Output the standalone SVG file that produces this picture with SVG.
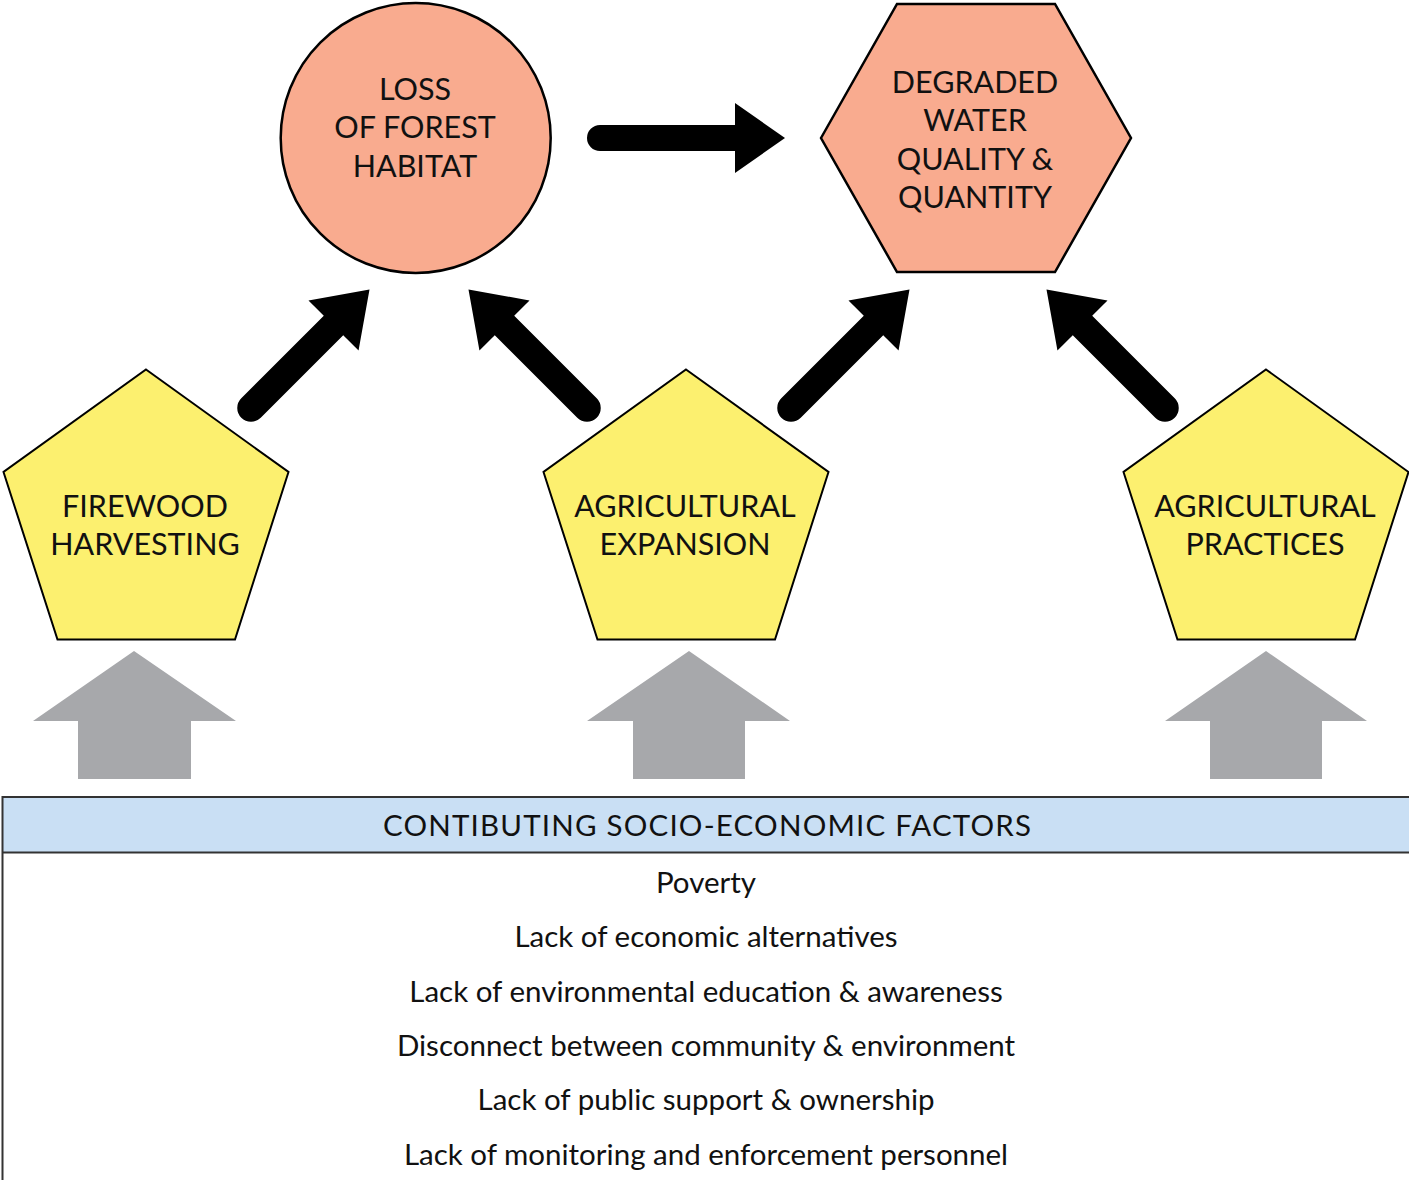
<svg xmlns="http://www.w3.org/2000/svg" width="1409" height="1180" viewBox="0 0 1409 1180">
  <style>
    .label { font-family: Lato, "Open Sans", "Liberation Sans", sans-serif; fill: #111; text-anchor: middle; }
    .node-text { font-size: 30.5px; }
    .threat { fill: #f9ab8f; stroke: #000; stroke-width: 2.5; }
    .driver { fill: #fcf06f; stroke: #000; stroke-width: 2; }
    .push { fill: #a7a8ab; }
    .link { fill: #000; }
    .factor { font-size: 29.5px; }
    .heading { font-size: 29.5px; }
    .rule { stroke: #333; stroke-width: 2; fill: none; }
  </style>
  <defs>
    <!-- bold arrow, tail centre at origin, pointing along +x -->
    <path id="diagArrow" d="M0,-13.75 L116.7,-13.75 L116.7,-35.4 L167.6,0 L116.7,35.4 L116.7,13.75 L0,13.75 A13.75,13.75 0 0 1 0,-13.75 Z"/>
    <path id="longArrow" d="M0,-13 L135,-13 L135,-35 L185,0 L135,35 L135,13 L0,13 A13,13 0 0 1 0,-13 Z"/>
  </defs>

  <rect width="1409" height="1180" fill="#fff"/>

  <!-- threats -->
  <g id="loss-of-forest-habitat">
    <circle class="threat" cx="415.7" cy="138" r="135"/>
    <text class="label node-text" x="415" y="100">LOSS</text>
    <text class="label node-text" x="415" y="138">OF FOREST</text>
    <text class="label node-text" x="415" y="177">HABITAT</text>
  </g>

  <g id="degraded-water">
    <polygon class="threat" points="821,138 897,4 1055,4 1131,138 1055,272 897,272"/>
    <text class="label node-text" x="975" y="93">DEGRADED</text>
    <text class="label node-text" x="975" y="131">WATER</text>
    <text class="label node-text" x="975" y="170">QUALITY &amp;</text>
    <text class="label node-text" x="975" y="208">QUANTITY</text>
  </g>

  <!-- direct drivers -->
  <g id="firewood-harvesting">
    <polygon class="driver" points="146,369.5 288.5,472 235,639.5 57.5,639.5 3.5,472"/>
    <text class="label node-text" x="145" y="517">FIREWOOD</text>
    <text class="label node-text" x="145" y="555">HARVESTING</text>
  </g>

  <g id="agricultural-expansion">
    <polygon class="driver" points="686,369.5 828.5,472 775,639.5 597.5,639.5 543.5,472"/>
    <text class="label node-text" x="685" y="517">AGRICULTURAL</text>
    <text class="label node-text" x="685" y="555">EXPANSION</text>
  </g>

  <g id="agricultural-practices">
    <polygon class="driver" points="1266,369.5 1408.5,472 1355,639.5 1177.5,639.5 1123.5,472"/>
    <text class="label node-text" x="1265" y="517">AGRICULTURAL</text>
    <text class="label node-text" x="1265" y="555">PRACTICES</text>
  </g>

  <!-- connectors -->
  <g id="connectors">
    <use href="#longArrow" class="link" transform="translate(600,138)"/>
    <use href="#diagArrow" class="link" transform="translate(251,408) rotate(-45)"/>
    <use href="#diagArrow" class="link" transform="translate(587,408) rotate(-135)"/>
    <use href="#diagArrow" class="link" transform="translate(791,408) rotate(-45)"/>
    <use href="#diagArrow" class="link" transform="translate(1165,408) rotate(-135)"/>
    <polygon class="push" points="134,651 236,721 191,721 191,779 78,779 78,721 33,721"/>
    <polygon class="push" points="689,651 790,721 745,721 745,779 633,779 633,721 587,721"/>
    <polygon class="push" points="1266,651 1367,721 1322,721 1322,779 1210,779 1210,721 1165,721"/>
  </g>

  <!-- socio-economic factors table -->
  <g id="factors-table">
    <rect x="2.5" y="797" width="1410" height="55.5" fill="#c9dff4"/>
    <line class="rule" x1="2" y1="797" x2="1409" y2="797"/>
    <line class="rule" x1="2" y1="852.5" x2="1409" y2="852.5"/>
    <line class="rule" x1="2.5" y1="796" x2="2.5" y2="1180"/>
    <text class="label heading" x="707" y="836" textLength="648" lengthAdjust="spacing">CONTIBUTING SOCIO-ECONOMIC FACTORS</text>
    <text class="label factor" x="706" y="893">Poverty</text>
    <text class="label factor" x="706" y="947">Lack of economic alternatives</text>
    <text class="label factor" x="706" y="1002">Lack of environmental education &amp; awareness</text>
    <text class="label factor" x="706" y="1056">Disconnect between community &amp; environment</text>
    <text class="label factor" x="706" y="1110">Lack of public support &amp; ownership</text>
    <text class="label factor" x="706" y="1165">Lack of monitoring and enforcement personnel</text>
  </g>
</svg>
